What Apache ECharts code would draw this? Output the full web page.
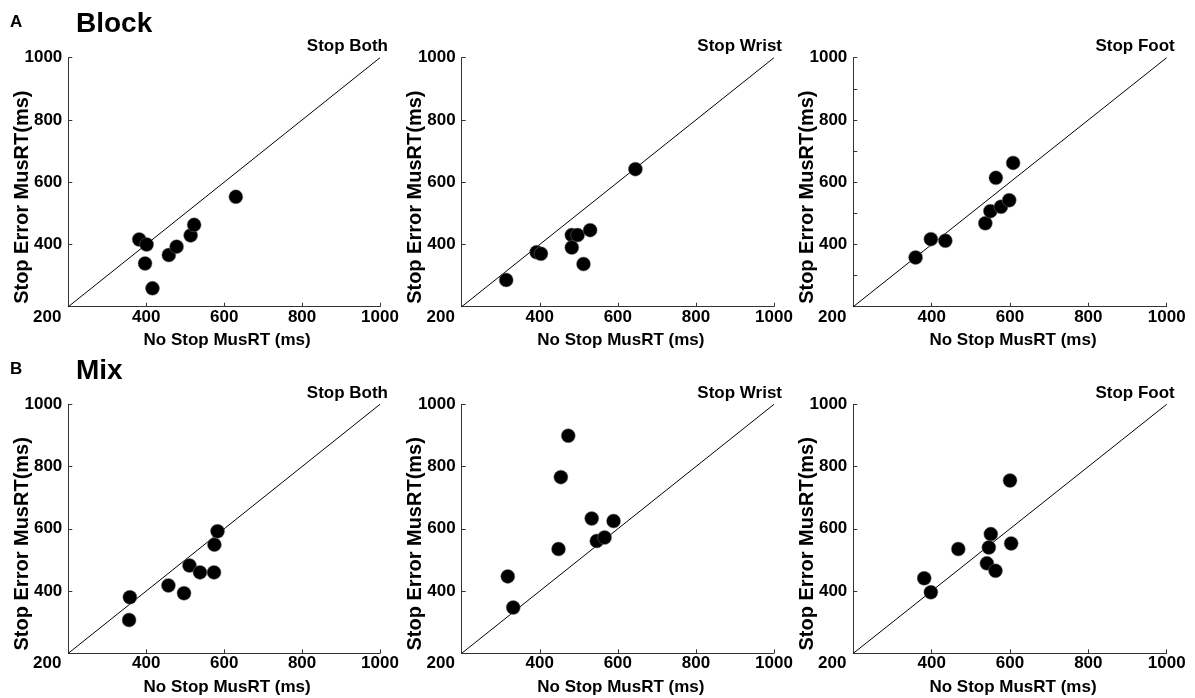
<!DOCTYPE html>
<html>
<head>
<meta charset="utf-8">
<script src="https://cdn.jsdelivr.net/npm/echarts@6/dist/echarts.min.js"></script>
<style>
html,body{margin:0;padding:0;background:#fff;}
#chart{width:1195px;height:698px;}
</style>
</head>
<body>
<div id="chart"></div>
<script>
// ---- data ----
var tickValues = [200, 400, 600, 800, 1000];
var identity = [200, 1000];
var panelTitles = ['Stop Both', 'Stop Wrist', 'Stop Foot', 'Stop Both', 'Stop Wrist', 'Stop Foot'];
var rowLetters = ['A', 'B'];
var rowTitles = ['Block', 'Mix'];
var xName = 'No Stop MusRT (ms)';
var yName = 'Stop Error MusRT(ms)';

var blockBothX  = [382, 401, 397, 416, 458, 478, 514, 523, 630];
var blockBothY  = [416, 400, 339, 259, 366, 393, 429, 463, 553];
var blockWristX = [314, 392, 403, 482, 497, 482, 529, 512, 645];
var blockWristY = [286, 375, 370, 430, 430, 390, 446, 337, 642];
var blockFootX  = [359, 398, 435, 537, 550, 564, 577, 598, 608];
var blockFootY  = [358, 417, 412, 468, 507, 614, 521, 542, 662];
var mixBothX    = [358, 356, 457, 497, 511, 538, 574, 575, 583];
var mixBothY    = [380, 307, 418, 393, 482, 460, 460, 549, 592];
var mixWristX   = [318, 332, 473, 454, 448, 533, 589, 546, 566];
var mixWristY   = [447, 347, 899, 766, 535, 633, 625, 561, 572];
var mixFootX    = [381, 398, 468, 551, 546, 541, 563, 600, 603];
var mixFootY    = [441, 396, 535, 583, 540, 489, 465, 755, 553];

var panelsX = [blockBothX, blockWristX, blockFootX, mixBothX, mixWristX, mixFootX];
var panelsY = [blockBothY, blockWristY, blockFootY, mixBothY, mixWristY, mixFootY];

// ---- layout ----
var FONT = '"Liberation Sans", Arial, Helvetica, sans-serif';
var lefts = [68.3, 461.7, 853.3];
var widths = [311.7, 312.3, 313.4];
var tops = [57.7, 404.3];
var H = 249;

var grids = [], xAxes = [], yAxes = [], series = [], graphics = [];

for (var i = 0; i < 6; i++) {
  var r = Math.floor(i / 3), c = i % 3;
  grids.push({left: lefts[c], top: tops[r], width: widths[c], height: H,
              containLabel: false, outerBoundsMode: 'none', show: false});
  xAxes.push({
    type: 'value', gridIndex: i, min: tickValues[0], max: tickValues[tickValues.length - 1],
    interval: 200,
    axisLine: {show: true, onZero: false, lineStyle: {color: '#333', width: 1}},
    axisTick: {show: true, inside: true, length: 4, lineStyle: {color: '#333'}},
    splitLine: {show: false},
    axisLabel: {
      color: '#000', fontFamily: FONT, fontWeight: 'bold', fontSize: 17, margin: 2,
      formatter: function (v) { return v === 200 ? '{s|200}' : String(v); },
      rich: {s: {color: '#000', fontFamily: FONT, fontWeight: 'bold', fontSize: 17, padding: [0, 42, 0, 0]}}
    }
  });
  yAxes.push({
    type: 'value', gridIndex: i, min: tickValues[0], max: tickValues[tickValues.length - 1],
    interval: 200,
    axisLine: {show: true, onZero: false, lineStyle: {color: '#333', width: 1}},
    axisTick: {show: true, inside: true, length: 4, lineStyle: {color: '#333'}},
    minorTick: {show: i === 2, splitNumber: 2, length: 4, lineStyle: {color: '#333'}},
    splitLine: {show: false},
    axisLabel: {
      color: '#000', fontFamily: FONT, fontWeight: 'bold', fontSize: 17, margin: 6,
      formatter: function (v) { return v === 200 ? '' : String(v); }
    }
  });
  series.push({
    type: 'line', xAxisIndex: i, yAxisIndex: i, silent: true, symbol: 'none',
    data: [[identity[0], identity[0]], [identity[1], identity[1]]],
    lineStyle: {color: '#000', width: 1}, z: 1, animation: false
  });
  var pts = panelsX[i].map(function (x, k) { return [x, panelsY[i][k]]; });
  series.push({
    type: 'scatter', xAxisIndex: i, yAxisIndex: i, symbolSize: 14,
    data: pts,
    itemStyle: {color: '#000', borderColor: '#777', borderWidth: 0.5, opacity: 1},
    z: 3, animation: false
  });
  var rightEdge = lefts[c] + widths[c];
  graphics.push({
    type: 'text', x: rightEdge + 8, y: tops[r] - 11,
    style: {text: panelTitles[i], font: 'bold 17px ' + FONT, fill: '#000',
            align: 'right', verticalAlign: 'middle'}
  });
  graphics.push({
    type: 'text', x: lefts[c] + widths[c] / 2 + 3, y: tops[r] + H + 34,
    style: {text: xName, font: 'bold 17px ' + FONT, fill: '#000',
            align: 'center', verticalAlign: 'middle'}
  });
  graphics.push({
    type: 'text', x: lefts[c] - 46, y: tops[r] + H / 2 + 15, rotation: Math.PI / 2,
    style: {text: yName, font: 'bold 20px ' + FONT, fill: '#000',
            align: 'center', verticalAlign: 'middle'}
  });
}
for (var rr = 0; rr < 2; rr++) {
  graphics.push({
    type: 'text', x: 10, y: tops[rr] - 35,
    style: {text: rowLetters[rr], font: 'bold 17px ' + FONT, fill: '#000',
            align: 'left', verticalAlign: 'middle'}
  });
  graphics.push({
    type: 'text', x: 76, y: tops[rr] - 33,
    style: {text: rowTitles[rr], font: 'bold 28px ' + FONT, fill: '#000',
            align: 'left', verticalAlign: 'middle'}
  });
}

var chart = echarts.init(document.getElementById('chart'), null, {renderer: 'canvas'});
chart.setOption({
  animation: false,
  backgroundColor: '#fff',
  grid: grids, xAxis: xAxes, yAxis: yAxes, series: series,
  graphic: graphics
});
</script>
</body>
</html>
